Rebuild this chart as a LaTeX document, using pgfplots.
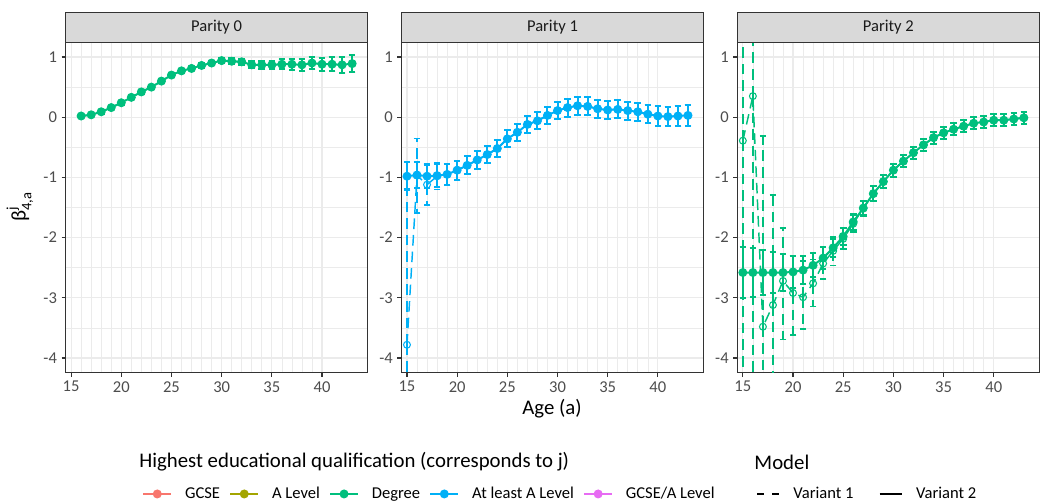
\documentclass[border=0pt]{standalone}
\usepackage{pgfplots}
\pgfplotsset{compat=1.18}
\usepackage{pgfplotstable}
\usepackage{amsmath}
\usepackage{fontspec}
\setmainfont{Carlito}

\definecolor{cgcse}{HTML}{F8766D}
\definecolor{calev}{HTML}{A3A500}
\definecolor{cdeg}{HTML}{00BF7D}
\definecolor{cleast}{HTML}{00B0F6}
\definecolor{cmix}{HTML}{E76BF3}
\definecolor{gridc}{HTML}{EBEBEB}
\definecolor{axc}{HTML}{333333}
\definecolor{tickc}{HTML}{4D4D4D}
\definecolor{stripc}{HTML}{D9D9D9}
\definecolor{striptxt}{HTML}{1A1A1A}

% parity 0, degree (both variants almost identical)
\pgfplotstableread{
a v e
16 0.02 0.03
17 0.04 0.03
18 0.09 0.03
19 0.16 0.03
20 0.24 0.03
21 0.33 0.03
22 0.42 0.03
23 0.50 0.03
24 0.60 0.03
25 0.70 0.03
26 0.77 0.03
27 0.81 0.03
28 0.86 0.04
29 0.90 0.04
30 0.94 0.04
31 0.93 0.05
32 0.92 0.05
33 0.87 0.06
34 0.87 0.07
35 0.87 0.07
36 0.88 0.08
37 0.88 0.09
38 0.87 0.10
39 0.90 0.10
40 0.88 0.11
41 0.88 0.12
42 0.87 0.13
43 0.89 0.14
}\pzero

% parity 1, at least A level
\pgfplotstableread{
a v e
15 -0.98 0.23
16 -0.96 0.21
17 -0.98 0.19
18 -0.97 0.19
19 -0.95 0.17
20 -0.88 0.16
21 -0.80 0.15
22 -0.71 0.15
23 -0.62 0.14
24 -0.52 0.14
25 -0.36 0.14
26 -0.25 0.14
27 -0.12 0.14
28 -0.06 0.14
29 0.03 0.14
30 0.11 0.14
31 0.16 0.15
32 0.19 0.15
33 0.18 0.15
34 0.14 0.15
35 0.12 0.15
36 0.13 0.15
37 0.11 0.15
38 0.09 0.15
39 0.05 0.15
40 0.02 0.16
41 0.01 0.16
42 0.02 0.17
43 0.03 0.17
}\poneB

\pgfplotstableread{
a v ep em
15 -3.78 2.60 2.60
16 -0.97 0.62 0.62
17 -1.12 0.34 0.34
18 -0.98 0.22 0.22
19 -0.95 0.18 0.18
20 -0.88 0.16 0.16
21 -0.80 0.15 0.15
22 -0.71 0.15 0.15
23 -0.62 0.14 0.14
24 -0.52 0.14 0.14
25 -0.36 0.14 0.14
26 -0.25 0.14 0.14
27 -0.12 0.14 0.14
28 -0.06 0.14 0.14
29 0.03 0.14 0.14
30 0.11 0.14 0.14
31 0.16 0.15 0.15
32 0.19 0.15 0.15
33 0.18 0.15 0.15
34 0.14 0.15 0.15
35 0.12 0.15 0.15
36 0.13 0.15 0.15
37 0.11 0.15 0.15
38 0.09 0.15 0.15
39 0.05 0.15 0.15
40 0.02 0.16 0.16
41 0.01 0.16 0.16
42 0.02 0.17 0.17
43 0.03 0.17 0.17
}\poneA

% parity 2, degree
\pgfplotstableread{
a v e
15 -2.58 0.42
16 -2.58 0.40
17 -2.58 0.37
18 -2.58 0.34
19 -2.58 0.30
20 -2.57 0.26
21 -2.54 0.23
22 -2.46 0.20
23 -2.34 0.18
24 -2.17 0.15
25 -1.98 0.14
26 -1.74 0.13
27 -1.51 0.12
28 -1.27 0.12
29 -1.07 0.11
30 -0.88 0.11
31 -0.73 0.10
32 -0.59 0.10
33 -0.46 0.10
34 -0.34 0.10
35 -0.26 0.10
36 -0.20 0.10
37 -0.15 0.10
38 -0.10 0.10
39 -0.08 0.10
40 -0.05 0.10
41 -0.05 0.10
42 -0.03 0.10
43 -0.01 0.10
}\ptwoB

\pgfplotstableread{
a v ep em
15 -0.39 6.00 6.00
16 0.35 6.00 6.00
17 -3.48 3.17 3.17
18 -3.12 1.83 1.83
19 -2.72 0.88 0.97
20 -2.92 0.62 0.70
21 -2.99 0.60 0.53
22 -2.76 0.40 0.38
23 -2.43 0.27 0.26
24 -2.22 0.23 0.24
25 -2.02 0.18 0.17
26 -1.77 0.14 0.14
27 -1.51 0.13 0.13
28 -1.27 0.12 0.12
29 -1.07 0.11 0.11
30 -0.88 0.11 0.11
31 -0.73 0.10 0.10
32 -0.59 0.10 0.10
33 -0.46 0.10 0.10
34 -0.34 0.10 0.10
35 -0.26 0.10 0.10
36 -0.20 0.10 0.10
37 -0.15 0.10 0.10
38 -0.10 0.10 0.10
39 -0.08 0.10 0.10
40 -0.05 0.10 0.10
41 -0.05 0.10 0.10
42 -0.03 0.10 0.10
43 -0.01 0.10 0.10
}\ptwoA

\pgfplotsset{
  panel/.style={
    width=228pt, height=249.5pt, scale only axis,
    anchor=south west,
    xmin=14.45, xmax=44.55, ymin=-4.243, ymax=1.248,
    xtick={15,20,25,30,35,40}, minor x tick num=4,
    ytick={-4,-3,-2,-1,0,1}, minor y tick num=1,
    yticklabels={-4,-3,-2,-1,0,1},
    grid=both,
    major grid style={draw=gridc, line width=0.9pt},
    minor grid style={draw=gridc, line width=0.5pt},
    axis line style={draw=axc, line width=0.8pt},
    tick align=outside, xtick pos=bottom, ytick pos=left,
    major tick length=3pt, minor tick length=0pt,
    tick style={draw=axc, line width=0.8pt},
    ticklabel style={font=\fontsize{12.5}{15}\selectfont, text=tickc},
    /pgf/number format/assume math mode=true,
  },
  v1/.style={color=#1, dash pattern=on 8pt off 4.5pt, line width=1.1pt,
    mark=o, mark size=2.6pt, mark options={solid, line width=0.8pt},
    forget plot,
    error bars/y dir=both, error bars/y explicit,
    error bars/error mark=|,
    error bars/error bar style={draw=#1, line width=1.1pt, dash pattern=on 8pt off 4.5pt},
    error bars/error mark options={solid, draw=#1, mark size=2.5pt, line width=1.1pt}},
  v2/.style={color=#1, solid, line width=1.5pt,
    mark=*, mark size=2.6pt, forget plot,
    error bars/y dir=both, error bars/y explicit,
    error bars/error mark=|,
    error bars/error bar style={draw=#1, solid, line width=1.5pt},
    error bars/error mark options={solid, draw=#1, mark size=2.5pt, line width=1.5pt}},
  leg/.style={legend style={anchor=west, draw=none, fill=none, inner xsep=0pt,
    nodes={inner sep=0pt},
    font=\fontsize{12.5}{15}\selectfont,
    /tikz/every odd column/.append style={column sep=9.75pt}}},
}

\begin{document}
\begin{tikzpicture}
\begin{scope}[x=0.75pt, y=-0.75pt]
\useasboundingbox (0,0) rectangle (1040,503);
\end{scope}

% Parity 0
\begin{axis}[panel, at={(49.5pt,-281.25pt)}, leg,
  legend columns=5,
  legend style={at={(0.2533,-0.367)},
    /tikz/every even column/.append style={column sep=7pt}},
  legend image code/.code={\draw[mark repeat=2, mark phase=2, #1]
    plot coordinates {(0pt,0pt) (10.5pt,0pt) (21pt,0pt)};},
]
\addlegendimage{cgcse, line width=1.5pt, mark=*, mark size=2.6pt}
\addlegendimage{calev, line width=1.5pt, mark=*, mark size=2.6pt}
\addlegendimage{cdeg, line width=1.5pt, mark=*, mark size=2.6pt}
\addlegendimage{cleast, line width=1.5pt, mark=*, mark size=2.6pt}
\addlegendimage{cmix, line width=1.5pt, mark=*, mark size=2.6pt}
\addplot[v1=cdeg] table[x=a, y=v, y error=e] {\pzero};
\addplot[v2=cdeg] table[x=a, y=v, y error=e] {\pzero};
\legend{GCSE, A Level, Degree, At least A Level, GCSE/A Level}
\end{axis}

% Parity 1
\begin{axis}[panel, at={(303pt,-281.25pt)}]
\addplot[v1=cleast] table[x=a, y=v, y error plus=ep, y error minus=em] {\poneA};
\addplot[v2=cleast] table[x=a, y=v, y error=e] {\poneB};
\end{axis}

% Parity 2
\begin{axis}[panel, at={(556.5pt,-281.25pt)}, leg,
  legend columns=2,
  legend style={at={(0.0625,-0.367)},
    /tikz/every even column/.append style={column sep=19pt}},
  legend image code/.code={\draw[#1] (0pt,0pt) -- (17pt,0pt);},
]
\addlegendimage{black, line width=1.1pt, dash pattern=on 5pt off 6.5pt}
\addlegendimage{black, line width=1.5pt}
\addplot[v1=cdeg] table[x=a, y=v, y error plus=ep, y error minus=em] {\ptwoA};
\addplot[v2=cdeg] table[x=a, y=v, y error=e] {\ptwoB};
\legend{Variant 1, Variant 2}
\end{axis}

\begin{scope}[x=0.75pt, y=-0.75pt]
\foreach \l/\t in {66/Parity 0, 404/Parity 1, 742/Parity 2}{
  \draw[fill=stripc, draw=axc, line width=0.8pt] (\l,12.7) rectangle (\l+304,42.3);
  \node[text=striptxt, font=\fontsize{12.5}{15}\selectfont] at (\l+152,27.5) {\t};
}
\node[font=\fontsize{15.7}{18}\selectfont] at (555.5,411) {Age (a)};
\node[rotate=90, font=\fontsize{15.7}{18}\selectfont] at (20,208) {β$^{\text{j}}_{\text{4,a}}$};
\node[anchor=west, inner sep=0pt, font=\fontsize{15.7}{18}\selectfont] at (140,465)
  {Highest educational qualification (corresponds to j)};
\node[anchor=west, inner sep=0pt, font=\fontsize{15.7}{18}\selectfont] at (759,465) {Model};
\end{scope}
\end{tikzpicture}
\end{document}
